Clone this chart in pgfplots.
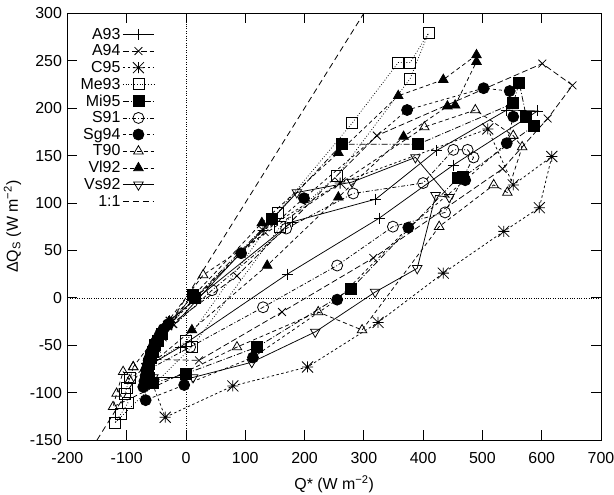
\documentclass[border=0pt]{standalone}
\usepackage{fontspec}
\setmainfont{Liberation Sans}
\usepackage{pgfplots}
\pgfplotsset{compat=1.18}

% gnuplot style star: plus and cross together
\pgfdeclareplotmark{gpstar}{%
  \pgfpathmoveto{\pgfqpoint{-\pgfplotmarksize}{0pt}}\pgfpathlineto{\pgfqpoint{\pgfplotmarksize}{0pt}}%
  \pgfpathmoveto{\pgfqpoint{0pt}{-\pgfplotmarksize}}\pgfpathlineto{\pgfqpoint{0pt}{\pgfplotmarksize}}%
  \pgfpathmoveto{\pgfqpoint{-\pgfplotmarksize}{-\pgfplotmarksize}}\pgfpathlineto{\pgfqpoint{\pgfplotmarksize}{\pgfplotmarksize}}%
  \pgfpathmoveto{\pgfqpoint{-\pgfplotmarksize}{\pgfplotmarksize}}\pgfpathlineto{\pgfqpoint{\pgfplotmarksize}{-\pgfplotmarksize}}%
  \pgfusepathqstroke}

\pgfplotsset{
  loop/.style={black, line width=0.75pt, mark size=5.5bp, mark options={solid, line width=0.8pt}},
}

\begin{document}
\begin{tikzpicture}
\begin{axis}[
  scale only axis,
  width=533.6bp, height=426.7bp,
  xmin=-200, xmax=700, ymin=-150, ymax=300,
  xtick distance=100, ytick distance=50,
  tick align=inside, major tick length=10bp,
  tick style={black, line width=0.8pt},
  axis line style={line width=1pt},
  /pgf/number format/assume math mode=true,
  font=\fontsize{16}{18}\selectfont,
  xticklabel style={yshift=-9bp},
  yticklabel style={xshift=-2bp},
  xlabel={Q* (W m\textsuperscript{−2})},
  xlabel style={yshift=-5bp},
  ylabel={ΔQ\textsubscript{S} (W m\textsuperscript{−2})},
  ylabel style={yshift=2bp},
  legend style={at={(0.015,0.975)}, anchor=north west, draw=none, fill=none,
    font=\fontsize{16}{18}\selectfont, row sep=0bp},
  legend cell align=right,
  legend plot pos=right,
  legend image code/.code={\draw[mark repeat=2,mark phase=2] plot coordinates {(0cm,0cm)(0.55cm,0cm)(1.1cm,0cm)};},
]
\addplot[black, dotted, forget plot] coordinates {(0,-150) (0,300)};
\addplot[black, dotted, forget plot] coordinates {(-200,0) (700,0)};

% A93
\addplot[loop, solid, mark=+] coordinates {
 (-30,-25) (-40,-38) (-50,-50) (-58,-62) (-64,-72) (-10,-52) (171,25) (326,84) (451,140)
 (593,197) (541,198) (422,155) (320,104) (179,80) (-30,-25)};
\addlegendentry{A93}
% A94
\addplot[loop, dash pattern=on 6pt off 3pt, mark=x] coordinates {
 (-30,-30) (-45,-45) (-55,-55) (-62,-65) (22,-66) (162,-15) (316,42) (534,136) (610,189)
 (652,224) (601,247) (322,171) (86,23) (-30,-30)};
\addlegendentry{A94}
% C95
\addplot[loop, dash pattern=on 2.5pt off 2.5pt, mark=gpstar] coordinates {
 (-25,-26) (-42,-40) (-52,-52) (-60,-62) (-66,-75) (-35,-126) (79,-93) (205,-73) (324,-26)
 (434,26) (536,70) (596,95) (617,149) (552,119) (509,178) (260,121) (130,71) (-24,-26)};
\addlegendentry{C95}
% Me93
\addplot[loop, dash pattern=on 0.8pt off 2pt, mark=square] coordinates {
 (-95,-85) (-100,-95) (-103,-101) (-98,-111) (-109,-122) (-120,-132) (10,-52) (159,75)
 (255,129) (378,231) (409,279) (378,248) (358,248) (280,184) (155,90) (0,-46) (-95,-85)};
\addlegendentry{Me93}
% Mi95
\addplot[loop, dash pattern=on 6pt off 2pt on 1pt off 2pt, mark=square*] coordinates {
 (-40,-38) (-48,-45) (-52,-50) (-56,-57) (-60,-63) (-62,-70) (-64,-77) (-62,-85) (-56,-90)
 (0,-80) (120,-52) (278,9) (458,126) (467,127) (586,181) (574,191) (562,227) (552,205)
 (392,162) (263,162) (145,83) (15,0) (12,3) (-40,-38)};
\addlegendentry{Mi95}
% S91
\addplot[loop, dash pattern=on 4pt off 2pt on 1pt off 2pt, mark=o] coordinates {
 (-50,-46) (-58,-57) (-63,-66) (-67,-77) (7,-52) (130,-10) (255,34) (349,75) (437,90)
 (485,148) (475,156) (451,156) (400,121) (282,110) (169,73) (44,8) (-50,-46)};
\addlegendentry{S91}
% Sg94
\addplot[loop, dash pattern=on 3pt off 3pt, mark=*] coordinates {
 (-30,-28) (-38,-33) (-45,-40) (-50,-46) (-55,-52) (-58,-58) (-62,-64) (-64,-70) (-67,-76)
 (-68,-82) (-70,-88) (-72,-94) (-68,-108) (-3,-92) (113,-63) (255,-2) (375,74) (471,124)
 (541,163) (552,191) (546,218) (502,221) (373,198) (199,105) (93,47) (-30,-28)};
\addlegendentry{Sg94}
% T90
\addplot[loop, dash pattern=on 4pt off 3pt, mark=triangle] coordinates {
 (-89,-73) (-95,-87) (-106,-78) (-117,-101) (-123,-115) (86,-52) (223,-15) (297,-34)
 (427,75) (519,119) (542,111) (567,159) (552,171) (488,198) (402,180) (29,24) (-89,-73)};
\addlegendentry{T90}
% Vl92
\addplot[loop, dash pattern=on 4pt off 3pt, mark=triangle*] coordinates {
 (-28,-25) (-35,-30) (-40,-35) (-46,-42) (-50,-48) (-54,-53) (-57,-58) (-61,-65) (-63,-72)
 (10,-34) (137,34) (257,106) (367,170) (441,202) (454,203) (490,249) (490,256) (434,230)
 (358,213) (257,153) (128,79) (-28,-25)};
\addlegendentry{Vl92}
% Vs92
\addplot[loop, solid, mark=triangle, mark options={rotate=180}] coordinates {
 (-52,-50) (-60,-60) (-66,-72) (-55,-84) (12,-84) (111,-68) (218,-36) (319,6) (390,31)
 (421,108) (444,106) (387,148) (280,122) (187,111) (-52,-50)};
\addlegendentry{Vs92}
% 1:1
\addplot[black, line width=0.8pt, dash pattern=on 6pt off 4pt] coordinates {(-150,-150) (300,300)};
\addlegendentry{1:1}
\end{axis}
\pgfresetboundingbox
\path ([shift={(-67.4bp,-55bp)}]current axis.south west) rectangle ([shift={(13bp,13.3bp)}]current axis.north east);
\end{tikzpicture}
\end{document}
